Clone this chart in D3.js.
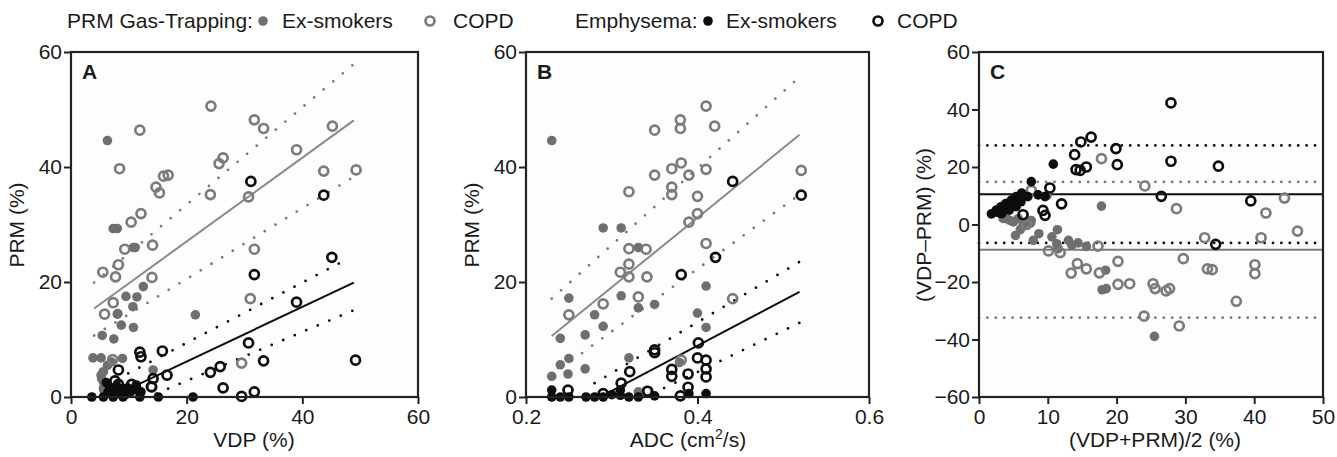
<!DOCTYPE html>
<html>
<head>
<meta charset="utf-8">
<script src="https://cdn.jsdelivr.net/npm/d3@7"></script>
<style>
  body { margin: 0; background: #fff; }
  text { font-family: "Liberation Sans", Arial, Helvetica, sans-serif; fill: #1a1a1a; }
</style>
</head>
<body>
<div id="chart"></div>
<script>
// ---- data ----
// panel A: VDP (%) vs PRM (%)
const vdpGasEx = [[6.3,44.6],[7.3,29.3],[8.0,29.3],[10.8,26.0],[11.1,26.0],[9.5,17.5],[11.4,17.4],[10.7,15.7],[12.5,19.2],
  [8.0,14.4],[8.1,14.5],[8.7,12.5],[10.8,12.1],[5.4,10.7],[7.4,10.1],[21.5,14.3],[3.8,6.8],[5.2,6.8],[8.9,6.7],[6.3,5.5],
  [7.0,6.1],[5.6,4.4],[5.2,3.8],[5.6,2.6],[5.7,1.2],[14.2,4.7],[5.3,3.2],[5.6,1.5]];
const vdpGasCopd = [[24.2,50.6],[11.9,46.4],[31.7,48.2],[33.3,46.7],[45.2,47.1],[39.0,43.0],[8.4,39.7],[25.6,40.6],[26.3,41.6],
  [16.0,38.4],[16.8,38.6],[14.7,36.5],[15.3,35.5],[24.1,35.2],[30.7,34.8],[43.7,39.3],[49.3,39.5],[12.1,31.9],[10.4,30.4],
  [9.3,25.7],[14.1,26.4],[31.7,25.7],[5.5,21.7],[8.2,23.0],[7.7,20.9],[14.0,20.8],[7.3,16.4],[5.8,14.4],[31.0,17.1],
  [29.5,5.9],[7.2,6.5],[14.0,1.7]];
const vdpEmphEx = [[3.6,0],[5.6,0],[7.3,0],[9.0,0],[11.9,0],[15.1,0],[21.1,0],[6.7,1.5],[7.9,1.9],[8.7,1.2],[9.8,1.6],
  [10.7,1.2],[7.0,0.6],[11.3,2.1],[12.1,0.9],[6.1,2.5],[8.1,0.6],[9.4,0.4],[10.2,0.8],[6.4,0.9]];
const vdpEmphCopd = [[31.1,37.5],[43.7,35.1],[45.1,24.3],[31.7,21.3],[39.0,16.5],[30.7,9.4],[11.9,7.8],[12.1,7.0],[15.8,8.0],
  [33.3,6.3],[49.2,6.4],[8.2,4.7],[24.1,4.3],[25.8,5.3],[26.3,1.6],[29.5,0.1],[31.7,0.9],[16.6,3.8],[13.9,1.8],[14.2,3.2],
  [8.2,2.2],[9.1,1.3],[10.5,2.2],[7.6,2.8],[11.2,1.5]];

// panel B: ADC (cm2/s) vs PRM (%)
const adcGasEx = [[0.230,44.6],[0.290,29.4],[0.311,29.4],[0.331,26.0],[0.311,17.6],[0.331,15.5],[0.350,16.1],[0.280,14.3],
  [0.290,12.3],[0.240,10.2],[0.250,17.2],[0.269,10.8],[0.240,5.6],[0.250,6.7],[0.230,3.6],[0.249,4.0],[0.269,4.9],
  [0.320,6.8],[0.410,19.3],[0.400,14.6],[0.410,12.1],[0.331,0.9],[0.379,6.0]];
const adcGasCopd = [[0.410,50.6],[0.380,48.2],[0.380,46.7],[0.420,47.1],[0.350,46.4],[0.320,35.7],[0.350,38.6],[0.370,39.7],
  [0.381,40.7],[0.390,38.6],[0.410,39.6],[0.370,36.5],[0.370,35.2],[0.400,34.9],[0.400,31.9],[0.390,30.4],[0.320,25.8],
  [0.340,25.7],[0.320,23.1],[0.310,21.7],[0.320,20.9],[0.341,20.9],[0.410,26.7],[0.521,39.4],[0.441,17.1],[0.290,16.2],
  [0.331,17.4],[0.250,14.3],[0.381,6.4],[0.341,1.0]];
const adcEmphEx = [[0.230,1.2],[0.230,0],[0.240,0],[0.250,0],[0.270,0],[0.280,0],[0.290,0],[0.310,1.2],[0.320,0],[0.331,0],
  [0.350,0.2],[0.390,0.6],[0.410,0.6],[0.300,0.4],[0.310,0.3]];
const adcEmphCopd = [[0.441,37.5],[0.521,35.1],[0.421,24.3],[0.381,21.3],[0.401,9.4],[0.350,8.2],[0.350,7.7],[0.400,6.8],
  [0.410,6.4],[0.321,4.4],[0.370,4.8],[0.370,3.6],[0.389,4.0],[0.410,4.9],[0.410,3.5],[0.389,1.7],[0.380,0.2],[0.311,2.4],
  [0.249,1.2],[0.290,0.6],[0.342,1.0]];

// panel C: (VDP+PRM)/2 vs VDP-PRM (Bland-Altman)
const baGasEx = [[25.5,-38.9],[17.8,6.4],[9.9,10.1],[18.5,-22.3],[17.9,-22.7],[18.4,-15.9],[11.4,-1.8],[10.6,-4.3],
  [8.7,-3.2],[7.9,-5.5],[5.3,-3.8],[6.0,-1.8],[13.0,-5.5],[13.5,-7.2],[14.4,-6.4],[15.6,-7.6],[11.3,-6.7],[11.5,-8.4],
  [4.5,1.4],[4.0,2.0],[5.0,0.9],[7.6,1.4],[6.4,-0.3],[3.5,2.1],[5.7,2.1],[7.5,0.5]];
const baGasCopd = [[17.8,22.9],[24.1,13.4],[28.7,5.5],[44.4,9.2],[41.7,4.0],[46.3,-2.3],[32.8,-4.6],[41.0,-4.6],[29.7,-11.9],
  [33.2,-15.4],[33.9,-15.7],[40.1,-14.0],[40.1,-17.1],[37.4,-26.7],[24.0,-31.9],[29.1,-35.3],[25.3,-20.6],[25.6,-22.3],
  [27.2,-23.1],[27.7,-22.3],[20.2,-20.8],[21.9,-20.6],[20.2,-12.8],[17.3,-7.5],[17.5,-16.8],[15.6,-15.4],[14.3,-13.6],
  [13.4,-16.9],[11.8,-9.8],[10.1,-9.2],[7.6,11.9],[6.9,0]];
const baEmphEx = [[10.8,21.0],[7.6,14.9],[1.8,3.7],[2.5,5.0],[3.2,6.2],[3.9,7.3],[4.7,8.5],[5.4,9.7],[6.2,10.9],[3.1,3.9],
  [4.4,5.0],[5.4,6.2],[6.1,7.9],[7.1,9.7],[8.6,10.3],[9.6,9.7],[3.7,5.6],[4.7,6.8],[2.6,4.3],[3.3,3.8],[4.3,5.2],[5.2,6.7]];
const baEmphCopd = [[27.9,42.3],[16.3,30.4],[14.8,28.7],[19.9,26.4],[13.9,24.3],[14.1,19.1],[14.7,18.8],[15.6,20.0],
  [20.1,20.8],[27.9,22.0],[34.8,20.3],[10.3,12.7],[26.5,9.8],[39.5,8.2],[12.0,7.2],[9.3,4.9],[9.6,3.2],[34.4,-6.9],[6.4,3.4]];

// regression fits with confidence bands (end points)
const fitA = { gray: [[4,15.4],[48.9,48.1]], grayHi: [[4,19.9],[48.9,57.9]], grayLo: [[4,10.7],[48.9,38.3]],
  black: [[10.8,1.8],[48.9,19.9]], blackHi: [[9.9,4.1],[48,24.1]], blackLo: [[14.8,0.6],[48.9,15.1]] };
const fitB = { gray: [[0.230,10.6],[0.519,45.6]], grayHi: [[0.230,17.1],[0.515,55.1]], grayLo: [[0.230,3.8],[0.519,35.2]],
  black: [[0.294,0.6],[0.519,18.3]], blackHi: [[0.280,2.4],[0.519,23.5]], blackLo: [[0.348,0.6],[0.519,12.9]] };
// Bland-Altman bias and limits of agreement
const baGasLines = { bias: -8.8, hi: 14.8, lo: -32.4 };
const baEmphLines = { bias: 10.5, hi: 27.5, lo: -6.4 };

const ticksA = { x: [0,20,40,60], y: [0,20,40,60] };
const ticksB = { x: [0.2,0.4,0.6], y: [0,20,40,60] };
const ticksC = { x: [0,10,20,30,40,50], y: [-60,-40,-20,0,20,40,60] };

// ---- drawing ----
const width = 1337, height = 457;
const gray = "#6f6f6f", grayOpen = "#7b7b7b", black = "#0d0d0d";
const fontSize = 21;

const svg = d3.select("#chart").append("svg")
  .attr("width", width)
  .attr("height", height);

const plotTop = 52, plotBottom = 397;

function panel(cfg) {
  const x = d3.scaleLinear().domain(cfg.xDomain).range([cfg.left, cfg.right]);
  const y = d3.scaleLinear().domain(cfg.yDomain).range([plotBottom, plotTop]);
  const g = svg.append("g");

  g.append("rect")
    .attr("x", cfg.left).attr("y", plotTop)
    .attr("width", cfg.right - cfg.left).attr("height", plotBottom - plotTop)
    .attr("fill", "#fdfdfd");

  const line = d3.line().x(d => x(d[0])).y(d => y(d[1]));
  (cfg.lines || []).forEach(l => {
    g.append("path")
      .attr("d", line(l.pts))
      .attr("fill", "none")
      .attr("stroke", l.color)
      .attr("stroke-width", l.dotted ? 2.8 : 2)
      .attr("stroke-linecap", l.dotted ? "round" : "butt")
      .attr("stroke-dasharray", l.dotted ? l.dash : null);
  });

  cfg.series.forEach(s => {
    g.append("g").selectAll("circle")
      .data(s.data)
      .enter().append("circle")
      .attr("cx", d => x(d[0]))
      .attr("cy", d => y(d[1]))
      .attr("r", s.open ? 4.5 : 4.8)
      .attr("fill", s.open ? "none" : s.color)
      .attr("stroke", s.open ? s.color : "none")
      .attr("stroke-width", 2.7);
  });

  // frame
  g.append("rect")
    .attr("x", cfg.left).attr("y", plotTop)
    .attr("width", cfg.right - cfg.left).attr("height", plotBottom - plotTop)
    .attr("fill", "none")
    .attr("stroke", "#222")
    .attr("stroke-width", 2.2);

  const xAxis = g.append("g")
    .attr("transform", `translate(0,${plotBottom})`)
    .call(d3.axisBottom(x).tickValues(cfg.xTicks).tickFormat(cfg.xFmt || d3.format("d"))
      .tickSize(7).tickSizeOuter(0).tickPadding(5));
  const yAxis = g.append("g")
    .attr("transform", `translate(${cfg.left},0)`)
    .call(d3.axisLeft(y).tickValues(cfg.yTicks).tickFormat(d3.format("d"))
      .tickSize(7).tickSizeOuter(0).tickPadding(2));
  [xAxis, yAxis].forEach(a => {
    a.select(".domain").remove();
    a.selectAll("line").attr("stroke", "#222").attr("stroke-width", 2);
    a.selectAll("text").attr("font-size", fontSize).attr("fill", "#1a1a1a")
      .style("font-family", "'Liberation Sans', Arial, sans-serif");
  });

  g.append("text")
    .attr("x", cfg.left + 11).attr("y", plotTop + 27)
    .attr("font-size", 21).attr("font-weight", "bold")
    .text(cfg.label);

  const xt = g.append("text")
    .attr("x", cfg.xTitleX).attr("y", 447)
    .attr("text-anchor", "middle").attr("font-size", fontSize);
  cfg.xTitle(xt);

  g.append("text")
    .attr("transform", `translate(${cfg.yTitleX},225) rotate(-90)`)
    .attr("text-anchor", "middle").attr("font-size", fontSize)
    .text(cfg.yTitle);
}

const regLines = (f) => [
  { pts: f.grayHi, color: grayOpen, dotted: true, dash: "0,12.5" },
  { pts: f.grayLo, color: grayOpen, dotted: true, dash: "0,12.5" },
  { pts: f.blackHi, color: black, dotted: true, dash: "0,12.5" },
  { pts: f.blackLo, color: black, dotted: true, dash: "0,12.5" },
  { pts: f.gray, color: "#8a8a8a" },
  { pts: f.black, color: black }
];

const hLines = (v, color) => [
  { pts: [[0, v.hi], [50, v.hi]], color: color, dotted: true, dash: "0,8.4" },
  { pts: [[0, v.lo], [50, v.lo]], color: color, dotted: true, dash: "0,8.4" },
  { pts: [[0, v.bias], [50, v.bias]], color: color }
];

panel({
  left: 71, right: 418, xDomain: [0, 60], yDomain: [0, 60],
  xTicks: ticksA.x, yTicks: ticksA.y, label: "A",
  lines: regLines(fitA),
  series: [
    { data: vdpGasEx, color: gray }, { data: vdpGasCopd, color: grayOpen, open: true },
    { data: vdpEmphEx, color: black }, { data: vdpEmphCopd, color: black, open: true }
  ],
  xTitleX: 254, xTitle: t => t.text("VDP (%)"),
  yTitleX: 24, yTitle: "PRM (%)"
});

panel({
  left: 526, right: 869, xDomain: [0.2, 0.6], yDomain: [0, 60],
  xTicks: ticksB.x, yTicks: ticksB.y, xFmt: d3.format(".1f"), label: "B",
  lines: regLines(fitB),
  series: [
    { data: adcGasEx, color: gray }, { data: adcGasCopd, color: grayOpen, open: true },
    { data: adcEmphEx, color: black }, { data: adcEmphCopd, color: black, open: true }
  ],
  xTitleX: 688, xTitle: t => {
    t.append("tspan").text("ADC (cm");
    t.append("tspan").attr("font-size", 14).attr("dy", -8).text("2");
    t.append("tspan").attr("dy", 8).text("/s)");
  },
  yTitleX: 479, yTitle: "PRM (%)"
});

panel({
  left: 979, right: 1323, xDomain: [0, 50], yDomain: [-60, 60],
  xTicks: ticksC.x, yTicks: ticksC.y, label: "C",
  lines: hLines(baGasLines, "#7a7a7a").concat(hLines(baEmphLines, black)),
  series: [
    { data: baGasEx, color: gray }, { data: baGasCopd, color: grayOpen, open: true },
    { data: baEmphEx, color: black }, { data: baEmphCopd, color: black, open: true }
  ],
  xTitleX: 1155, xTitle: t => t.text("(VDP+PRM)/2 (%)"),
  yTitleX: 931, yTitle: "(VDP\u2013PRM) (%)"
});

// legend
const legend = svg.append("g");
const legendItems = [
  { text: "PRM Gas-Trapping:", x: 67 },
  { text: "Ex-smokers", x: 282, mark: { x: 263, color: gray } },
  { text: "COPD", x: 453, mark: { x: 430, color: grayOpen, open: true } },
  { text: "Emphysema:", x: 575 },
  { text: "Ex-smokers", x: 726, mark: { x: 708, color: black } },
  { text: "COPD", x: 897, mark: { x: 878, color: black, open: true } }
];
legendItems.forEach(d => {
  legend.append("text").attr("x", d.x).attr("y", 28).attr("font-size", fontSize).text(d.text);
  if (d.mark) {
    legend.append("circle")
      .attr("cx", d.mark.x).attr("cy", 21)
      .attr("r", d.mark.open ? 4.5 : 4.8)
      .attr("fill", d.mark.open ? "none" : d.mark.color)
      .attr("stroke", d.mark.open ? d.mark.color : "none")
      .attr("stroke-width", 2.7);
  }
});
</script>
</body>
</html>
